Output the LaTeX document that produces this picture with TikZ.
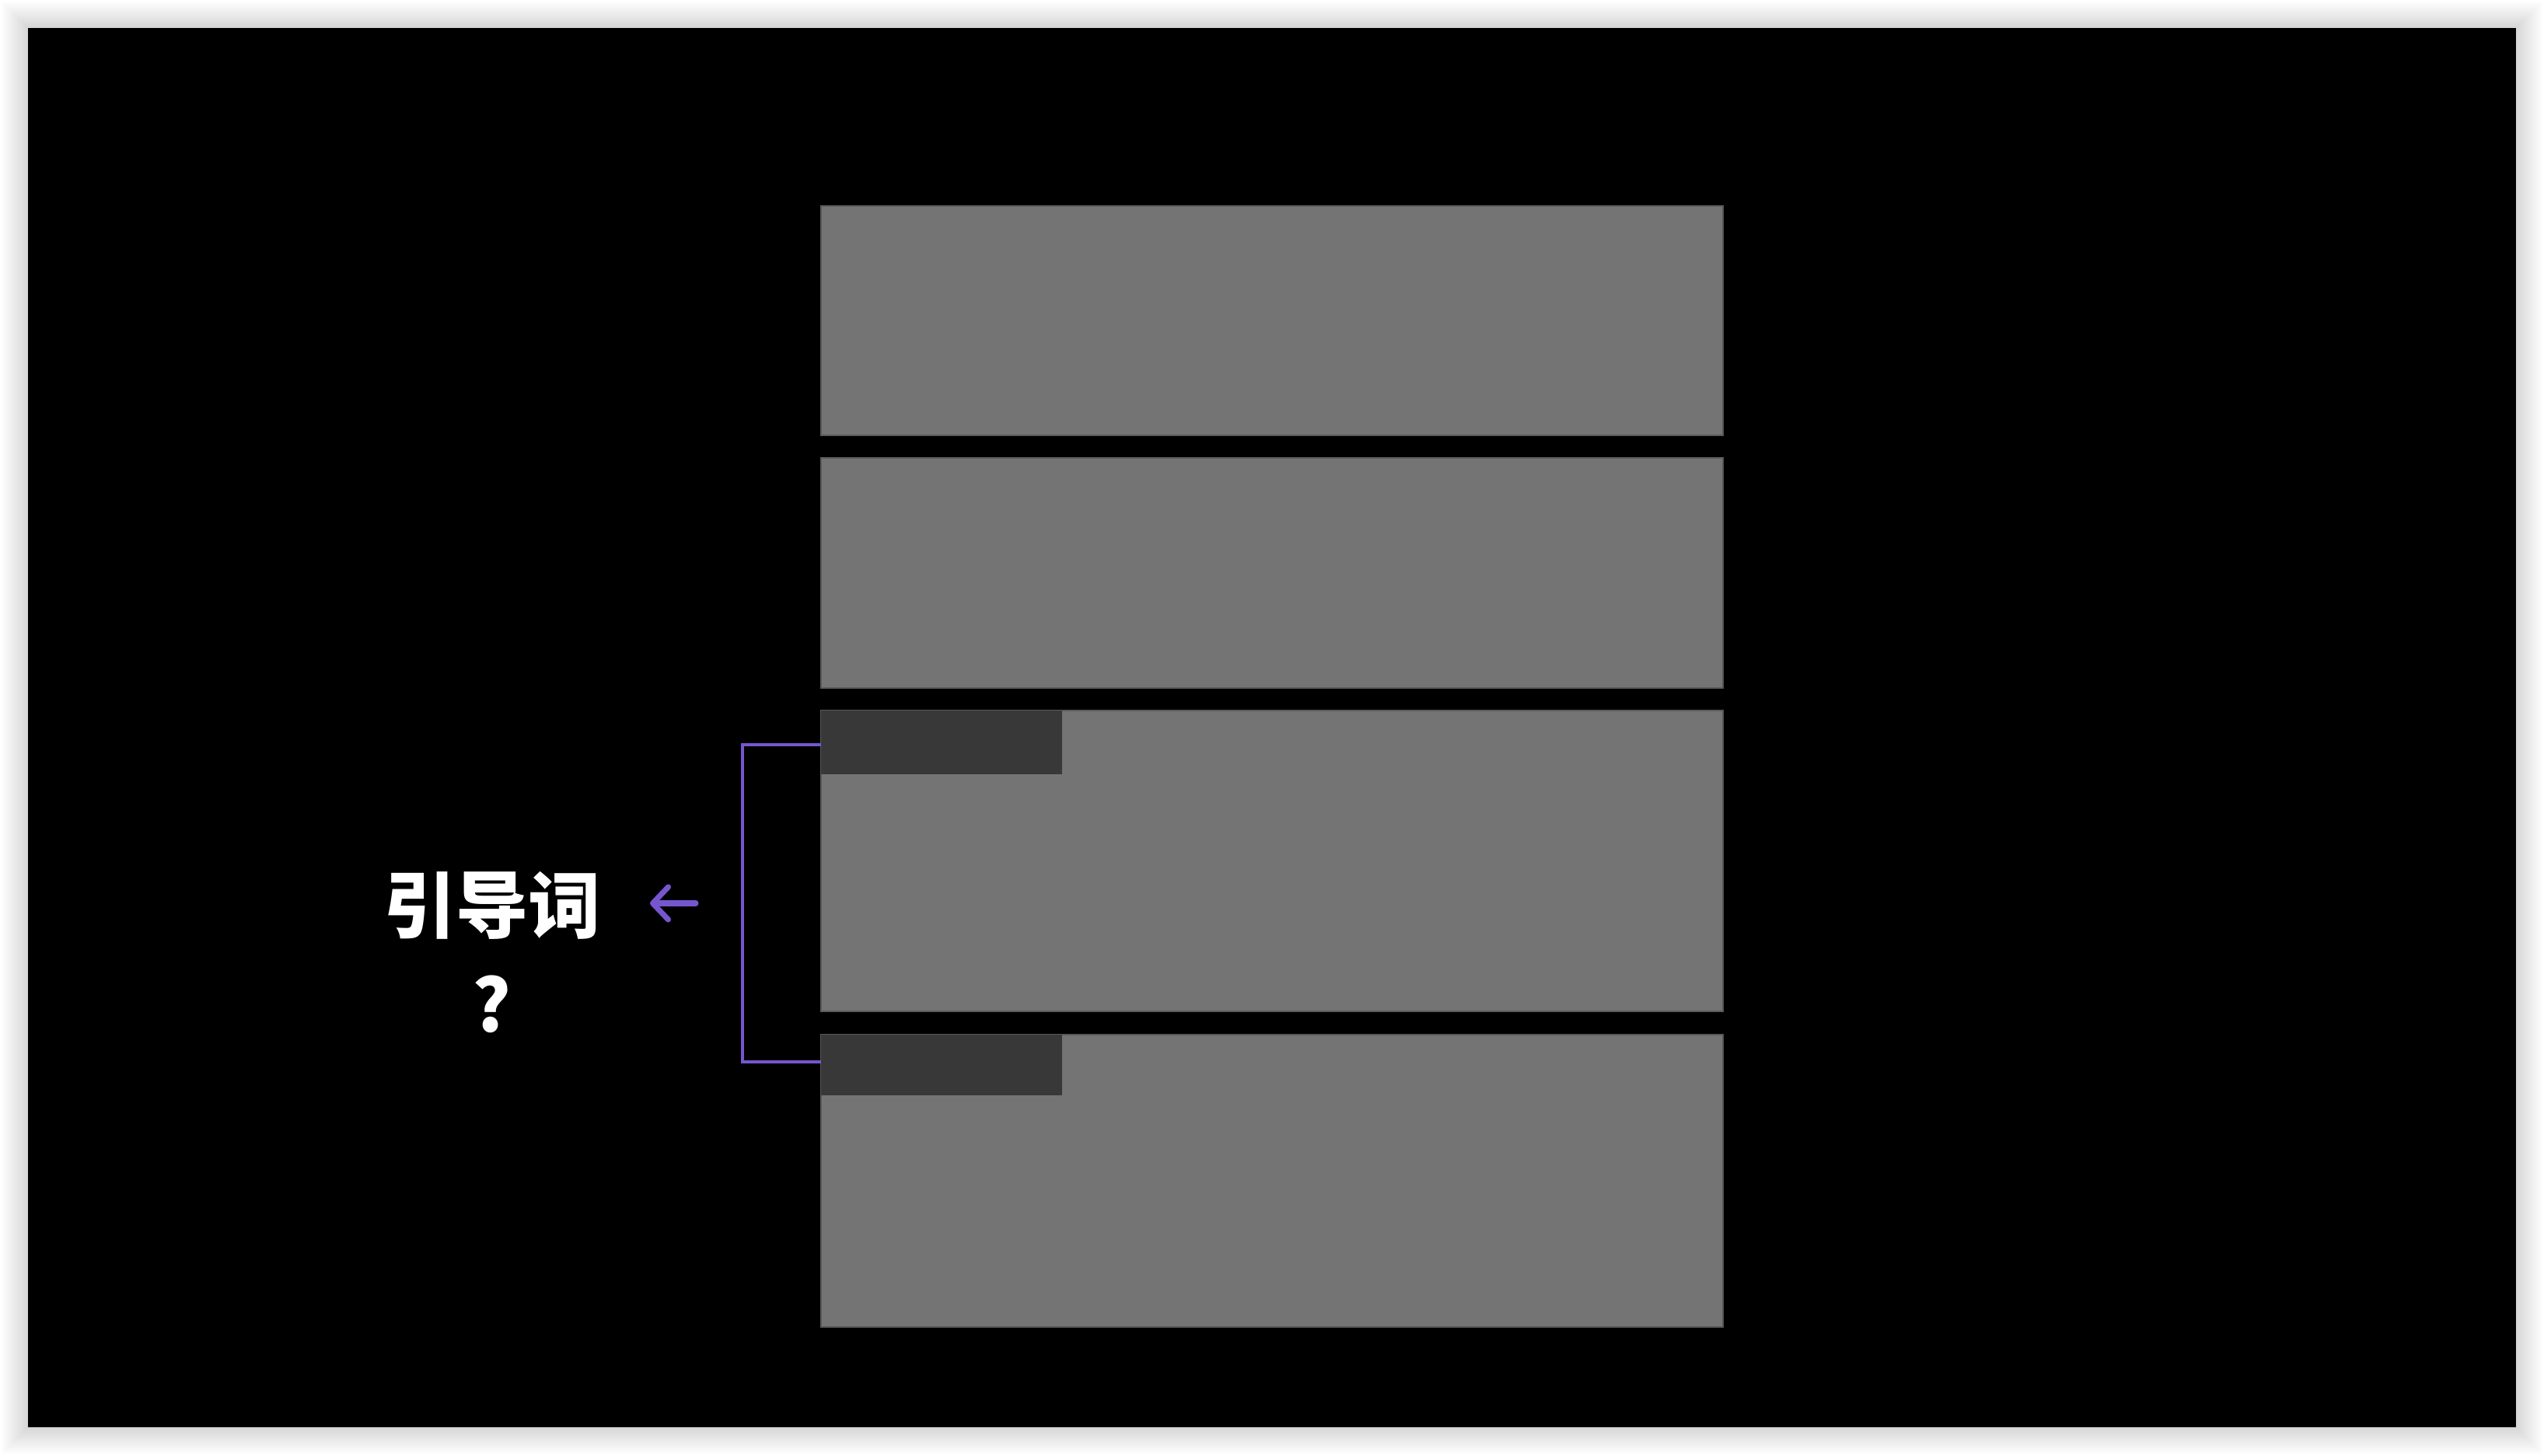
\documentclass[tikz,border=0pt]{standalone}
\usepackage{fontspec}
\newfontfamily\cjk{Noto Sans CJK SC}
\usetikzlibrary{arrows.meta, positioning}

\definecolor{barfill}{HTML}{747474}
\definecolor{barline}{HTML}{5A5A5A}
\definecolor{headfill}{HTML}{383838}
\definecolor{leadpurple}{HTML}{7656CF}

\tikzset{
  bar/.style={rectangle, fill=barfill, draw=barline, line width=0.5pt, minimum width=11.6cm, inner sep=0pt, outer sep=0pt},
  header/.style={rectangle, fill=headfill, minimum width=3.1cm, inner sep=0pt, outer sep=0pt},
  leadtext/.style={text=white, font=\cjk\bfseries\fontsize{26.5}{32}\selectfont, inner sep=0pt},
  bracket/.style={draw=leadpurple, line width=1.1pt},
  pointer/.style={draw=leadpurple, line width=2pt, line cap=round, -{Straight Barb[length=2mm, width=4.2mm, round]}}
}

\begin{document}
\begin{tikzpicture}
    % Page and slide frame
    \fill[white] (0,0) rectangle (32.72,18.72);  % Whole page
    \foreach \i in {1,...,20}
        \fill[black, opacity=0.009] (0.36-\i*0.017,0.36-\i*0.017) rectangle (32.36+\i*0.017,18.36+\i*0.017);  % Soft shadow
    \fill[black] (0.36,0.36) rectangle (32.36,18.36);  % Slide

    % Bars
    \node[bar, minimum height=2.95cm] (b1) at (16.36,14.595) {};  % First bar
    \node[bar, minimum height=2.96cm] (b2) at (16.36,11.35) {};  % Second bar
    \node[bar, minimum height=3.87cm] (b3) at (16.36,7.645) {};  % Third bar
    \node[bar, minimum height=3.76cm] (b4) at (16.36,3.53) {};  % Fourth bar

    % Dark headers
    \node[header, minimum height=0.82cm, anchor=north west] (h3) at (b3.north west) {};  % Header of third bar
    \node[header, minimum height=0.78cm, anchor=north west] (h4) at (b4.north west) {};  % Header of fourth bar

    % Labels
    \node[leadtext] (lead) at (6.33,7.07) {引导词};  % Label
    \node[leadtext] (q) at (6.32,5.80) {?};  % Question mark

    % Connections
    \coordinate (bt) at (10.56,9.14);  % Bracket top end
    \coordinate (bb) at (10.56,5.06);  % Bracket bottom end
    \coordinate (tail) at (8.95,7.10);  % Arrow start
    \coordinate (tip) at (8.36,7.10);  % Arrow end
    \draw[bracket] (bt) -- ++(-1.01,0) |- (bb);  % Bracket over the headers
    \draw[pointer] (tail) -- (tip);  % Arrow toward the label
\end{tikzpicture}
\end{document}
